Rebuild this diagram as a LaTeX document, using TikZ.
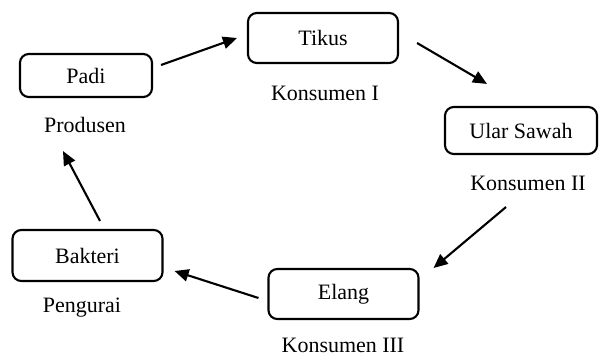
\documentclass[tikz,border=0pt]{standalone}
\usepackage{fontspec}
\setmainfont{Liberation Serif}
\usetikzlibrary{arrows.meta}

\begin{document}
\begin{tikzpicture}
        % Define styles for the boxes, the role labels and the arrows
        \tikzset{
            box_food/.style={draw, line width=1.2pt, rounded corners=5pt, minimum width=3cm, minimum height=1cm, font=\fontsize{12.5}{14}\selectfont},
            lbl_role/.style={font=\fontsize{12.5}{14}\selectfont},
            arr_flow/.style={line width=1.2pt, -{Triangle[length=8pt,width=7pt]}}
        }
        \useasboundingbox (0,0) rectangle (11.98,-7.14);

        % Padi: produsen
        \node[box_food, minimum width=2.64cm, minimum height=0.86cm] (padi) at (1.72,-1.51) {Padi};
        \node[lbl_role] (produsen) at (1.7,-2.5) {Produsen};

        % Tikus: konsumen I
        \node[box_food] (tikus) at (6.46,-0.76) {Tikus};
        \node[lbl_role] (kons1) at (6.5,-1.86) {Konsumen I};

        % Ular Sawah: konsumen II
        \node[box_food, minimum width=3.04cm, minimum height=0.94cm] (ular) at (10.42,-2.61) {Ular Sawah};
        \node[lbl_role] (kons2) at (10.56,-3.66) {Konsumen II};

        % Elang: konsumen III
        \node[box_food] (elang) at (6.87,-5.88) {Elang};
        \node[lbl_role] (kons3) at (6.86,-6.9) {Konsumen III};

        % Bakteri: pengurai
        \node[box_food, minimum height=1.02cm] (bakteri) at (1.75,-5.11) {Bakteri};
        \node[lbl_role] (pengurai) at (1.64,-6.16) {Pengurai};

        % Arrows round the cycle
        \draw[arr_flow] ([shift={(0.16,0.21)}]padi.east) -- ([shift={(-0.2,0)}]tikus.west);
        \draw[arr_flow] ([shift={(0.36,-0.1)}]tikus.east) -- ([shift={(-0.68,0.44)}]ular.north);
        \draw[arr_flow] ([shift={(-0.3,-1.04)}]ular.south) -- ([shift={(0.28,0.52)}]elang.east);
        \draw[arr_flow] ([shift={(-0.18,-0.08)}]elang.west) -- ([shift={(0.22,-0.31)}]bakteri.east);
        \draw[arr_flow] ([shift={(0.25,0.16)}]bakteri.north) -- ([shift={(-0.46,-1.06)}]padi.south);

    \end{tikzpicture}
\end{document}
